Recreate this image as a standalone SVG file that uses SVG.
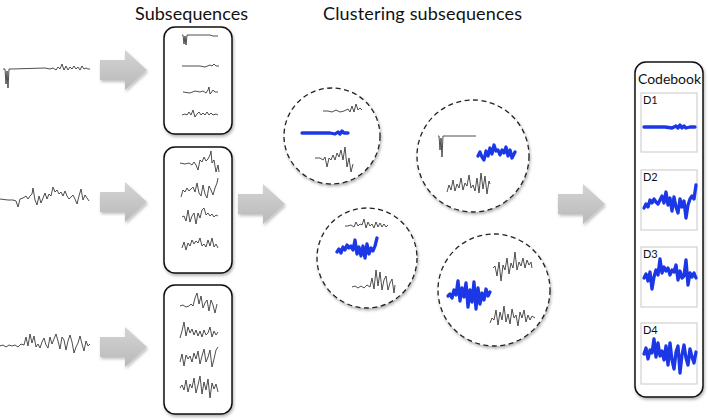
<svg xmlns="http://www.w3.org/2000/svg" xmlns:xlink="http://www.w3.org/1999/xlink" width="708" height="420" viewBox="0 0 708 420">
<style>
.title{font-family:Lato,"Open Sans","Liberation Sans",sans-serif;font-size:18px;fill:#111}
.lbl{font-family:Lato,"Open Sans","Liberation Sans",sans-serif;font-size:14px;fill:#111}
.dl{font-family:Lato,"Open Sans","Liberation Sans",sans-serif;font-size:11px;fill:#111}
.box{fill:#fff;stroke:#111;stroke-width:1.5;filter:url(#sh)}
.circ{fill:#fff;stroke:#222;stroke-width:1.3;stroke-dasharray:5 3.5;filter:url(#sh)}
.panel{fill:#fff;stroke:#c8c8c8;stroke-width:1}
.sig{fill:none;stroke:#3a3a3a;stroke-width:0.9;stroke-linejoin:round}
.blue{fill:none;stroke:#1c38e6;stroke-width:3.3;stroke-linejoin:round;stroke-linecap:round}
.arr{fill:url(#ag);filter:url(#ash)}
</style>
<defs>
<filter id="sh" x="-20%" y="-20%" width="140%" height="140%"><feDropShadow dx="1" dy="2" stdDeviation="1.6" flood-color="#000" flood-opacity="0.3"/></filter>
<filter id="ash" x="-20%" y="-20%" width="140%" height="150%"><feDropShadow dx="1" dy="2" stdDeviation="1.5" flood-color="#000" flood-opacity="0.25"/></filter>
<linearGradient id="ag" x1="0" y1="0" x2="0" y2="1"><stop offset="0" stop-color="#d4d4d4"/><stop offset="1" stop-color="#b9b9b9"/></linearGradient>
<path id="arrow" d="M0,10 H25 V0 L47,20 L25,40 V30 H0 Z"/>
</defs>
<rect width="708" height="420" fill="#fff"/>

<g id="titles">
<text class="title" x="135" y="20" textLength="113">Subsequences</text>
<text class="title" x="323" y="20" textLength="199">Clustering subsequences</text>
</g>

<g id="connectors">
<use xlink:href="#arrow" href="#arrow" class="arr" x="100" y="50"/>
<use xlink:href="#arrow" href="#arrow" class="arr" x="100" y="182"/>
<use xlink:href="#arrow" href="#arrow" class="arr" x="100" y="327"/>
<use xlink:href="#arrow" href="#arrow" class="arr" x="238" y="184"/>
<use xlink:href="#arrow" href="#arrow" class="arr" x="558" y="184"/>
</g>

<g id="series1">
<polyline class="sig" points="3,69 5,69 6,84 7,71 8,88 9,69 12,69 45,68 50,69 53,68 56,70 58,67 60,69 62,64 64,70 66,66 68,70 70,67 72,69 74,66 76,69 78,67 80,70 82,66 84,69 86,68 88,69 90,69"/>
</g>
<g id="series2">
<polyline class="sig" points="0,199 8,200 13,200 16,201 18,207 20,199 23,198 26,196 28,199 30,196 32,194 33,188 35,200 37,205 39,196 41,203 43,198 45,193 47,199 49,194 51,196 53,187 55,192 57,190 59,194 61,192 63,196 65,191 67,196 69,199 71,197 73,195 75,199 77,204 79,196 81,189 83,200 85,195 87,198 89,201"/>
</g>
<g id="series3">
<polyline class="sig" points="0,346 3,345 6,347 9,345 12,346 15,345 18,347 21,344 24,345 26,337 28,346 30,334 32,343 34,336 36,347 38,344 40,348 42,342 44,338 46,345 48,348 50,337 52,344 54,339 56,334 58,341 60,349 62,337 64,340 66,350 68,341 70,335 72,342 74,353 76,347 78,343 80,336 82,344 84,351 86,341 88,346 90,344"/>
</g>

<g id="subseq1">
<rect class="box" x="164" y="27" width="68" height="107" rx="11"/>
<polyline class="sig" points="182,35 183,35 184,44 185,36 186,45 187,35 188,35 210,35 213,36 218,36"/>
<polyline class="sig" points="182,66 200,66 205,67 210,65 212,66 214,64 216,66 219,66"/>
<polyline class="sig" points="183,92 190,93 195,91 200,92 203,91 206,93 208,90 209,87 210,94 211,93 213,90 215,92 218,92"/>
<polyline class="sig" points="182,115 185,114 187,115 189,112 191,115 193,110 195,117 197,114 199,112 201,115 203,113 205,115 207,112 209,115 211,113 213,115 216,114 218,115"/>
</g>

<g id="subseq2">
<rect class="box" x="164" y="147" width="68" height="126" rx="11"/>
<polyline class="sig" points="180,163 185,164 189,163 192,165 194,162 196,165 198,170 200,160 202,162 204,157 206,161 208,159 210,155 211,151 212,163 214,160 216,172 218,165 219,172"/>
<polyline class="sig" points="181,197 183,190 185,192 187,188 189,191 191,189 193,187 195,192 197,183 199,193 201,196 203,185 205,194 207,198 209,186 211,190 213,195 215,188 217,183 218,178"/>
<polyline class="sig" points="182,217 184,216 186,221 188,210 190,222 192,216 194,213 196,224 198,213 200,218 202,210 204,208 206,215 208,213 210,216 212,214 214,217 216,215 218,216"/>
<polyline class="sig" points="182,248 184,242 186,250 188,243 190,246 192,240 194,244 196,241 198,243 200,238 202,246 204,244 206,247 208,240 210,246 212,238 214,247 216,244 218,248"/>
</g>

<g id="subseq3">
<rect class="box" x="164" y="285" width="68" height="129" rx="11"/>
<polyline class="sig" points="180,306 183,305 186,307 189,306 191,304 193,306 195,298 197,293 199,304 201,296 203,308 205,303 207,300 209,311 211,300 213,305 215,313 217,304"/>
<polyline class="sig" points="180,338 182,331 184,322 186,336 188,327 190,333 192,329 194,335 196,330 198,336 200,331 202,337 204,330 206,335 208,333 210,327 212,337 214,331 216,335 218,332"/>
<polyline class="sig" points="180,362 182,354 184,366 186,355 188,359 190,356 192,362 194,353 196,359 198,351 200,364 202,356 204,349 206,362 208,357 210,350 212,367 214,359 216,350 218,347"/>
<polyline class="sig" points="180,388 182,385 184,390 186,380 188,392 190,384 192,388 194,378 196,393 198,385 200,376 202,394 204,382 206,390 208,379 210,398 212,383 214,389 216,384 218,392"/>
</g>

<g id="cluster1">
<circle class="circ" cx="332" cy="136" r="48"/>
<polyline class="sig" points="323,111 328,111 332,112 336,110 340,112 344,111 348,109 350,112 352,106 354,112 356,104 358,110 360,108 362,110"/>
<polyline class="blue" points="302,133 325,133 330,133 335,134 338,132 340,134 342,131 344,133 348,133"/>
<polyline class="sig" points="315,158 320,158 323,160 325,157 327,167 329,158 331,160 333,155 335,160 337,153 339,157 341,150 343,160 345,147 347,167 349,158 351,172 353,164"/>
</g>

<g id="cluster2">
<circle class="circ" cx="473" cy="156" r="56"/>
<polyline class="sig" points="438,136 439,136 440,150 441,138 442,157 443,136 446,136 476,136"/>
<polyline class="blue" points="478,156 480,152 482,157 484,160 486,151 488,156 490,148 492,154 494,145 496,151 498,150 500,155 502,150 504,153 506,147 508,156 510,150 512,158 515,152"/>
<polyline class="sig" points="447,192 449,185 451,190 453,180 455,191 457,184 459,188 461,178 463,190 465,183 467,186 469,175 471,188 473,185 475,191 477,178 479,193 481,173 483,189 485,176 487,194 489,181 490,184"/>
</g>

<g id="cluster3">
<circle class="circ" cx="367" cy="258" r="50"/>
<polyline class="sig" points="345,226 348,226 351,225 354,227 356,222 358,226 360,224 362,225 364,219 366,228 368,222 370,226 372,224 374,228 376,222 378,227 380,223 382,227 384,224 386,227 388,225"/>
<polyline class="blue" points="337,252 339,249 341,253 343,247 345,250 347,245 349,248 351,246 353,250 355,240 357,254 359,247 361,256 363,246 365,258 367,244 369,254 371,248 373,251 375,246 377,238"/>
<polyline class="sig" points="352,287 355,286 358,288 361,286 364,288 367,285 370,287 372,278 374,289 376,270 378,286 380,272 382,290 384,280 386,276 388,290 390,283 392,279 394,293 395,285"/>
</g>

<g id="cluster4">
<circle class="circ" cx="494" cy="290" r="56"/>
<polyline class="sig" points="493,268 495,266 497,276 499,262 501,281 503,265 505,270 507,258 509,274 511,263 513,268 515,252 517,270 519,262 521,266 523,258 525,268 527,260 529,265 531,262 532,268"/>
<polyline class="blue" points="448,296 450,294 452,298 454,290 456,295 458,281 460,301 462,288 464,297 466,283 468,307 470,290 472,302 474,282 476,309 478,288 480,304 482,293 484,300 486,289 488,296 490,292"/>
<polyline class="sig" points="490,323 492,318 494,320 496,310 498,325 500,312 502,320 504,306 506,322 508,314 510,324 512,309 514,318 516,315 518,326 520,312 522,318 524,310 526,322 528,315 530,320 532,316 535,318"/>
</g>

<g id="codebook">
<rect class="box" x="635" y="62" width="68" height="335" rx="11"/>
<text class="lbl" x="638" y="84" textLength="63">Codebook</text>
</g>
<g id="D1">
<rect class="panel" x="641" y="93" width="56" height="59"/>
<text class="dl" x="643" y="104">D1</text>
<polyline class="blue" points="644,127 665,127 672,128 676,126 678,128 680,125 682,128 684,126 686,128 690,127 695,127"/>
</g>
<g id="D2">
<rect class="panel" x="641" y="170" width="56" height="60"/>
<text class="dl" x="643" y="181">D2</text>
<polyline class="blue" points="644,208 646,204 648,207 650,200 652,203 654,199 656,202 658,204 660,200 662,196 664,203 666,192 668,205 670,198 672,211 674,197 676,207 678,213 680,199 682,207 684,201 686,218 688,205 690,199 692,196 694,199 696,185"/>
</g>
<g id="D3">
<rect class="panel" x="641" y="247" width="56" height="60"/>
<text class="dl" x="643" y="258">D3</text>
<polyline class="blue" points="644,278 646,274 648,281 650,272 652,289 654,277 656,270 658,275 660,259 662,273 664,267 666,271 668,268 670,275 672,270 674,272 676,265 678,280 680,271 682,278 684,276 686,260 688,285 690,273 692,277 694,273 696,278"/>
</g>
<g id="D4">
<rect class="panel" x="641" y="323" width="56" height="61"/>
<text class="dl" x="643" y="334">D4</text>
<polyline class="blue" points="644,354 646,348 648,359 650,350 652,353 654,339 656,357 658,343 660,356 662,351 664,360 666,346 668,365 670,343 672,360 674,369 676,352 678,346 680,373 682,355 684,345 686,358 688,365 690,349 692,357 694,363 696,352"/>
</g>
</svg>
